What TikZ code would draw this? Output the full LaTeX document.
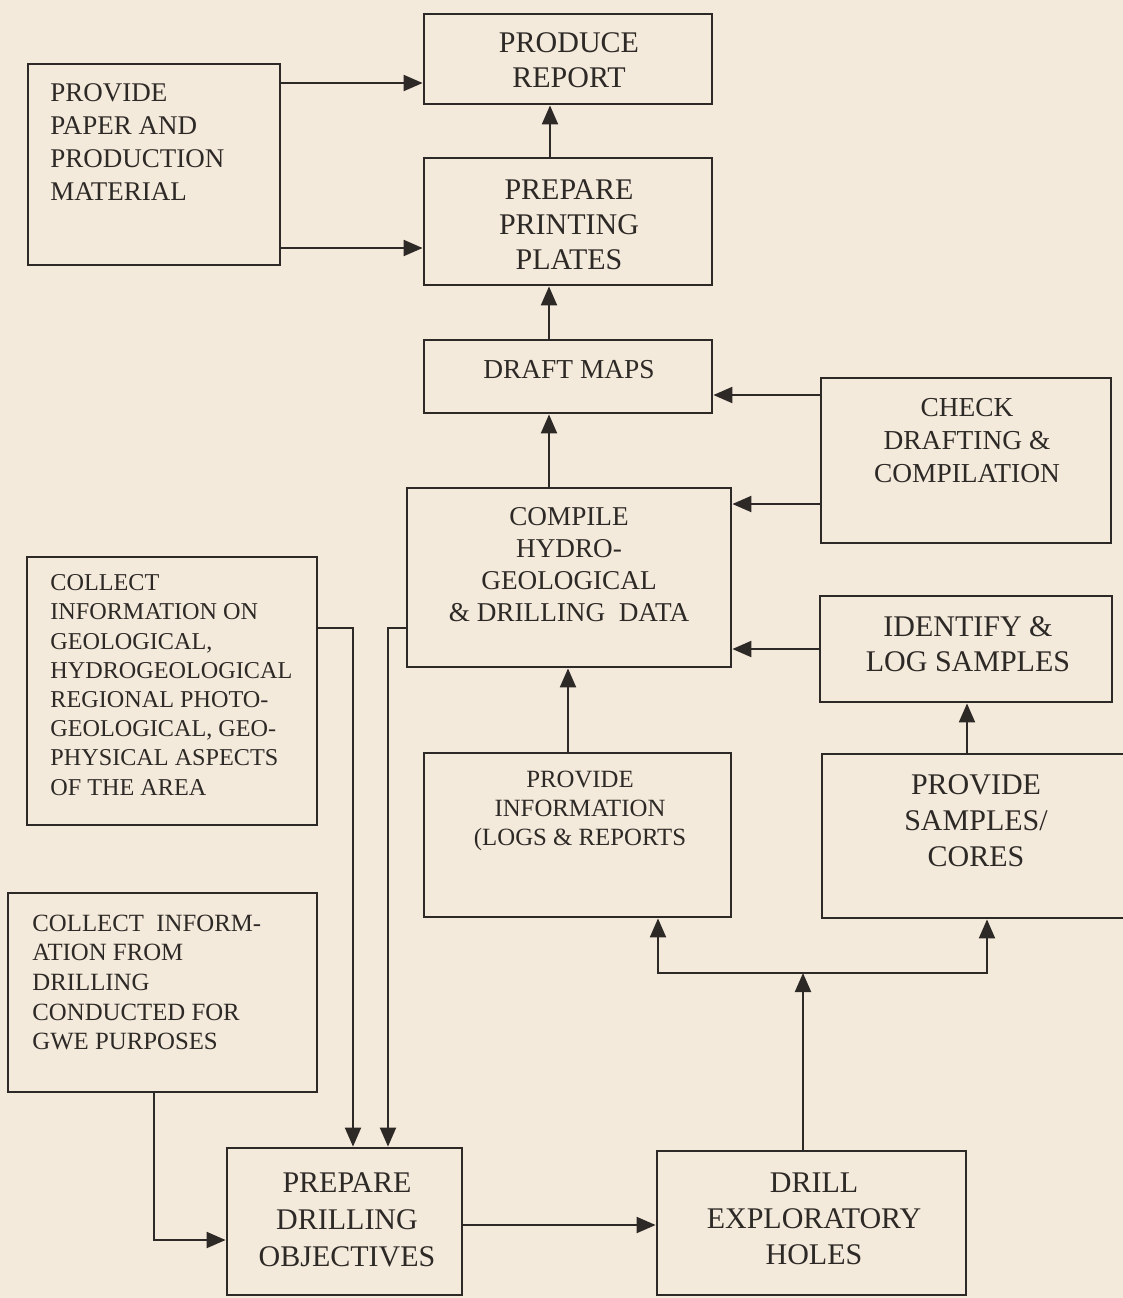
\documentclass[tikz,border=0pt]{standalone}
\usepackage{fontspec}
\setmainfont{Liberation Serif}
\usetikzlibrary{arrows.meta,fit}
\definecolor{paperbg}{RGB}{244,234,219}
\definecolor{ink}{RGB}{45,41,38}
\newcommand\myfs[2]{\fontsize{#1}{#2}\selectfont}
\begin{document}
\begin{tikzpicture}[x=0.5pt,y=-0.5pt,
  box/.style={draw=ink, line width=1.4pt, inner sep=0pt},
  arr/.style={draw=ink, line width=1.05pt, -{Triangle[length=9.5pt,width=8pt]}},
  txt/.style={text=ink, inner sep=0pt},
  ]
\useasboundingbox (0,0) rectangle (1123,1298);
\fill[paperbg] (0,0) rectangle (1123,1298);
\clip (0,0) rectangle (1123,1298);

% boxes
\node[box, fit={(28,64) (280,265)}] (paper) {};
\node[box, fit={(424,14) (712,104)}] (report) {};
\node[box, fit={(424,158) (712,285)}] (plates) {};
\node[box, fit={(424,340) (712,413)}] (draft) {};
\node[box, fit={(821,378) (1111,543)}] (check) {};
\node[box, fit={(407,488) (731,667)}] (compile) {};
\node[box, fit={(27,557) (317,825)}] (collecta) {};
\node[box, fit={(820,596) (1112,702)}] (identify) {};
\node[box, fit={(424,753) (731,917)}] (info) {};
\node[box, fit={(822,754) (1150,918)}] (samples) {};
\node[box, fit={(657,1151) (966,1295)}] (drill) {};
\node[box, fit={(227,1148) (462,1295)}] (objectives) {};
\node[box, fit={(8,893) (317,1092)}] (collectb) {};

% texts
\node[txt, anchor=west, align=left, font=\myfs{13.5}{16.5}] (paperT) at (50,142.5)
  {PROVIDE\\PAPER AND\\PRODUCTION\\MATERIAL};
\node[txt, align=center, font=\myfs{15}{17.5}] (reportT) at (569,60.5)
  {PRODUCE\\REPORT};
\node[txt, align=center, font=\myfs{15}{17.5}] (platesT) at (569,225)
  {PREPARE\\PRINTING\\PLATES};
\node[txt, align=center, font=\myfs{13.7}{16}] (draftT) at (569,370)
  {DRAFT MAPS};
\node[txt, align=center, font=\myfs{13.7}{16.5}] (checkT) at (967,440.5)
  {CHECK\\DRAFTING \&\\COMPILATION};
\node[txt, align=center, font=\myfs{13.6}{16}] (compileT) at (569,565)
  {COMPILE\\HYDRO-\\GEOLOGICAL\\\& DRILLING~~DATA};
\node[txt, anchor=west, align=left, font=\myfs{12.1}{14.6}] (collectaT) at (50,685)
  {COLLECT\\INFORMATION ON\\GEOLOGICAL,\\HYDROGEOLOGICAL\\REGIONAL PHOTO-\\GEOLOGICAL, GEO-\\PHYSICAL ASPECTS\\OF THE AREA};
\node[txt, align=center, font=\myfs{15}{17.5}] (identifyT) at (968,644.5)
  {IDENTIFY \&\\LOG SAMPLES};
\node[txt, align=center, font=\myfs{12.4}{14.5}] (infoT) at (580,811)
  {PROVIDE\\INFORMATION\\(LOGS \& REPORTS};
\node[txt, align=center, font=\myfs{15}{18}] (samplesT) at (976,821)
  {PROVIDE\\SAMPLES/\\CORES};
\node[txt, align=center, font=\myfs{15}{18}] (drillT) at (814,1219)
  {DRILL\\EXPLORATORY\\HOLES};
\node[txt, align=center, font=\myfs{15}{18.5}] (objectivesT) at (347,1219.5)
  {PREPARE\\DRILLING\\OBJECTIVES};
\node[txt, anchor=west, align=left, font=\myfs{12.4}{14.8}] (collectbT) at (32,982.5)
  {COLLECT~~INFORM-\\ATION FROM\\DRILLING\\CONDUCTED FOR\\GWE PURPOSES};

% connectors
\draw[arr] (paper.east |- 0,83) -- (report.west |- 0,83);
\draw[arr] (paper.east |- 0,248) -- (plates.west |- 0,248);
\draw[arr] (plates.north -| 550,0) -- (report.south -| 550,0);
\draw[arr] (draft.north -| 549,0) -- (plates.south -| 549,0);
\draw[arr] (compile.north -| 549,0) -- (draft.south -| 549,0);
\draw[arr] (check.west |- 0,395) -- (draft.east |- 0,395);
\draw[arr] (check.west |- 0,504) -- (compile.east |- 0,504);
\draw[arr] (identify.west |- 0,649) -- (compile.east |- 0,649);
\draw[arr] (info.north -| 568,0) -- (compile.south -| 568,0);
\draw[arr] (samples.north -| 967,0) -- (identify.south -| 967,0);
\coordinate (junction) at (803,973);
\draw[arr] (drill.north -| 803,0) -- (junction);
\draw[arr] (junction) -| (info.south -| 658,0);
\draw[arr] (junction) -| (samples.south -| 987,0);
\draw[arr] (collecta.east |- 0,628) -| (objectives.north -| 353,0);
\draw[arr] (compile.west |- 0,628) -| (objectives.north -| 388,0);
\draw[arr] (collectb.south -| 154,0) |- (objectives.west |- 0,1240);
\draw[arr] (objectives.east |- 0,1225) -- (drill.west |- 0,1225);
\end{tikzpicture}
\end{document}
